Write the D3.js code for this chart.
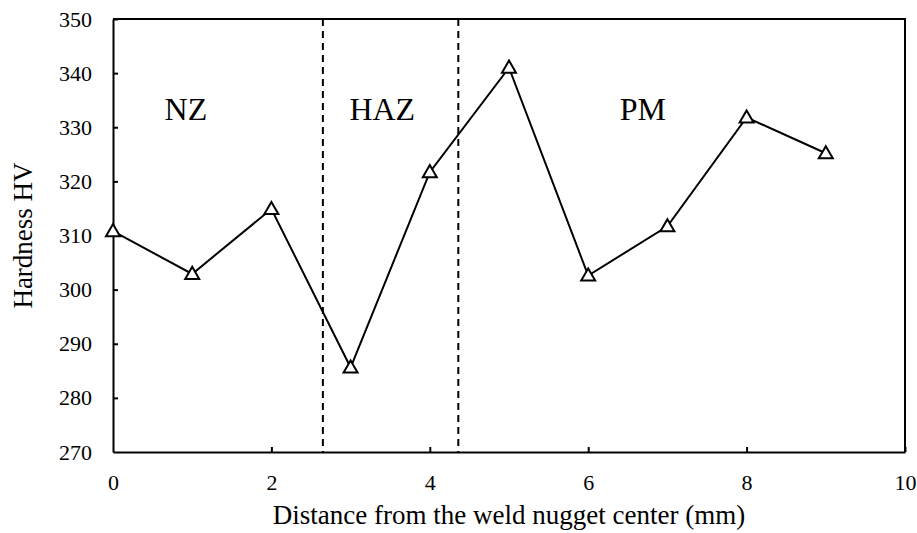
<!DOCTYPE html>
<html>
<head>
<meta charset="utf-8">
<script src="https://cdn.jsdelivr.net/npm/d3@7"></script>
<style>
  body { margin: 0; background: #fff; }
  text { font-family: "Liberation Serif", "Times New Roman", serif; fill: #000; }
</style>
</head>
<body>
<svg id="chart" width="917" height="533"></svg>
<script>
// data
var distance = [0, 1, 2, 3, 4, 5, 6, 7, 8, 9];
var hardness = [310.8, 302.9, 314.9, 285.6, 321.7, 341.0, 302.6, 311.7, 331.8, 325.2];
var zoneBounds = [2.65, 4.36];
var zoneLabels = ["NZ", "HAZ", "PM"];
var zoneLabelX = [0.92, 3.4, 6.69];
var xTicks = [0, 2, 4, 6, 8, 10];
var yTicks = [270, 280, 290, 300, 310, 320, 330, 340, 350];

var svg = d3.select("#chart");
var margin = {left: 113, right: 12, top: 19, bottom: 81};
var W = 917, H = 533;

var x = d3.scaleLinear().domain([0, 10]).range([margin.left, W - margin.right]);
var y = d3.scaleLinear().domain([270, 350]).range([H - margin.bottom, margin.top]);

// axes, ticks pointing inwards
var xAxis = d3.axisBottom(x).tickValues(xTicks).tickSizeInner(-5).tickSizeOuter(0).tickPadding(0);
var yAxis = d3.axisLeft(y).tickValues(yTicks).tickSizeInner(-5).tickSizeOuter(0).tickPadding(21);

var gx = svg.append("g").attr("transform", "translate(0," + y(270) + ")").call(xAxis);
var gy = svg.append("g").attr("transform", "translate(" + x(0) + ",0)").call(yAxis);

[gx, gy].forEach(function(g) {
    g.selectAll("path, line").attr("stroke", "#000").attr("stroke-width", 2);
    g.selectAll("text").style("font-size", "22px").style("font-family", "Liberation Serif");
});
gx.selectAll("text").attr("y", 38).attr("dy", "0");
gy.select(".tick:first-of-type line").remove();
gx.select(".tick:first-of-type line").remove();

// frame top/right
svg.append("path")
    .attr("d", "M" + x(0) + "," + y(350) + "H" + x(10) + "V" + y(270))
    .attr("fill", "none").attr("stroke", "#000").attr("stroke-width", 2);

// zone dividers
svg.selectAll(".zone").data(zoneBounds).enter().append("line")
    .attr("x1", function(d) { return x(d); }).attr("x2", function(d) { return x(d); })
    .attr("y1", y(350)).attr("y2", y(270))
    .attr("stroke", "#000").attr("stroke-width", 2).attr("stroke-dasharray", "7,5");

svg.selectAll(".zlabel").data(zoneLabels).enter().append("text")
    .attr("x", function(d, i) { return x(zoneLabelX[i]); })
    .attr("y", y(331.3))
    .attr("text-anchor", "middle")
    .style("font-size", "32px")
    .text(function(d) { return d; });

// line + markers
var pts = distance.map(function(d, i) { return [d, hardness[i]]; });
var line = d3.line().x(function(d) { return x(d[0]); }).y(function(d) { return y(d[1]); });

svg.append("path").datum(pts)
    .attr("d", line).attr("fill", "none").attr("stroke", "#000").attr("stroke-width", 2);

var tri = d3.symbol().type(d3.symbolTriangle).size(85);
svg.selectAll(".pt").data(pts).enter().append("path")
    .attr("d", tri)
    .attr("transform", function(d) { return "translate(" + x(d[0]) + "," + (y(d[1]) + 1) + ")"; })
    .attr("fill", "#fff").attr("stroke", "#000").attr("stroke-width", 2);

// axis titles
svg.append("text")
    .attr("x", (x(0) + x(10)) / 2).attr("y", 524)
    .attr("text-anchor", "middle").style("font-size", "27px")
    .text("Distance from the weld nugget center (mm)");

svg.append("text")
    .attr("transform", "translate(32," + y(310) + ") rotate(-90)")
    .attr("text-anchor", "middle").style("font-size", "27px")
    .text("Hardness HV");
</script>
</body>
</html>
